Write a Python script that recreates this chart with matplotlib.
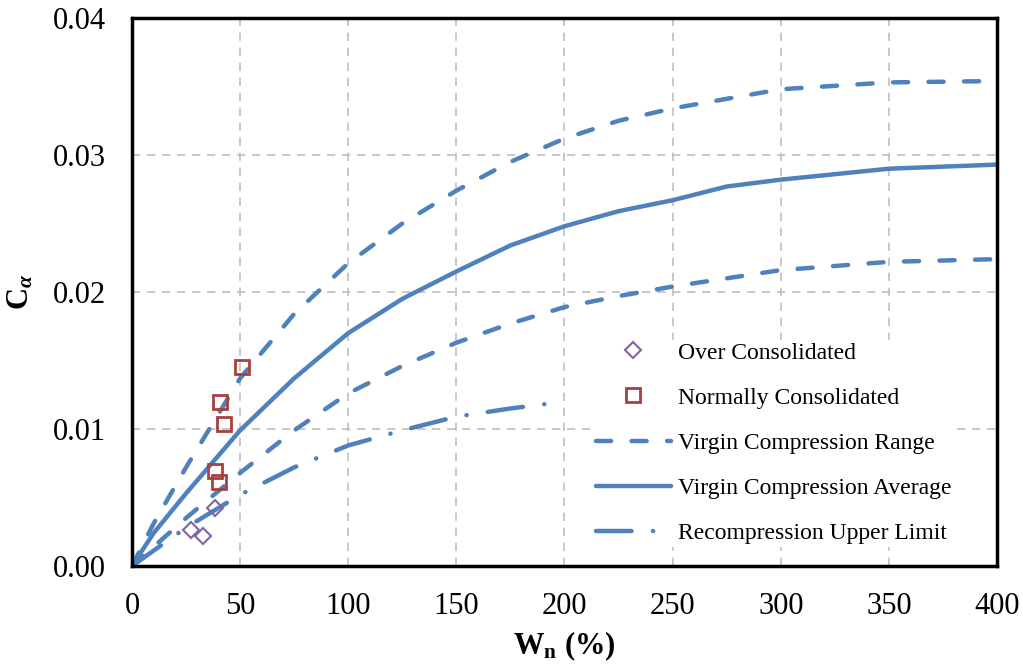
import numpy as np
import matplotlib.pyplot as plt

# ---- data ----
w_upper = [0, 10, 25, 50, 75, 100, 125, 150, 175, 200, 225, 250, 300, 350, 400]
ca_upper = [0, 0.0031, 0.0072, 0.0137, 0.0184, 0.0221, 0.0250, 0.0274, 0.0295, 0.0312, 0.0325,
            0.0334, 0.0348, 0.0353, 0.0354]

w_lower = [0, 10, 25, 50, 75, 100, 125, 150, 175, 200, 225, 250, 300, 350, 400]
ca_lower = [0, 0.0014, 0.0035, 0.0068, 0.0099, 0.0126, 0.0146, 0.0163, 0.0177, 0.0189, 0.0197,
            0.0204, 0.0216, 0.0222, 0.0224]

w_avg = [0, 10, 25, 50, 75, 100, 125, 150, 175, 200, 225, 250, 275, 300, 350, 400]
ca_avg = [0, 0.0024, 0.0053, 0.0099, 0.0137, 0.0170, 0.0195, 0.0215, 0.0234, 0.0248, 0.0259,
          0.0267, 0.0277, 0.0282, 0.0290, 0.0293]

w_rec = [0, 25, 50, 75, 100, 125, 150, 175, 200]
ca_rec = [0, 0.0028, 0.0052, 0.0072, 0.0088, 0.0099, 0.0109, 0.0115, 0.0120]

w_oc = [27.3, 33.0, 38.4]
ca_oc = [0.0026, 0.0022, 0.0042]

w_nc = [50.7, 40.8, 42.5, 38.5, 40.1]
ca_nc = [0.0145, 0.0120, 0.0104, 0.0069, 0.0061]

x_ticks = [0, 50, 100, 150, 200, 250, 300, 350, 400]
y_ticks = [0.00, 0.01, 0.02, 0.03, 0.04]

# ---- style ----
plt.rcParams['font.family'] = ['Liberation Serif', 'DejaVu Serif']
plt.rcParams['mathtext.fontset'] = 'custom'
plt.rcParams['mathtext.rm'] = 'Liberation Serif'
plt.rcParams['mathtext.it'] = 'Liberation Serif:italic'
plt.rcParams['mathtext.bf'] = 'Liberation Serif:bold'
plt.rcParams['mathtext.bfit'] = 'Liberation Serif:bold:italic'

blue = '#4F81BD'
lw = 3.2

fig = plt.figure(figsize=(10.23, 6.67), dpi=100)
ax = fig.add_axes([0.129, 0.1514, 0.8456, 0.8216])

ax.plot(w_oc, ca_oc, linestyle='none', marker='D', ms=8.5, mfc='none', mec='#8064A2', mew=1.5,
        label='Over Consolidated', zorder=4)
ax.plot(w_nc, ca_nc, linestyle='none', marker='s', ms=10, mfc='none', mec='#A8403D', mew=2,
        label='Normally Consolidated', zorder=4)

ax.plot(w_upper, ca_upper, color=blue, lw=lw, linestyle=(0, (3.4, 4.6)), dash_capstyle='round',
        label='Virgin Compression Range')
ax.plot(w_lower, ca_lower, color=blue, lw=lw, linestyle=(0, (3.4, 4.6)), dash_capstyle='round',
        label='_nolegend_')
ax.plot(w_avg, ca_avg, color=blue, lw=lw, solid_capstyle='round',
        label='Virgin Compression Average')
ax.plot(w_rec, ca_rec, color=blue, lw=lw, linestyle=(0, (8.0, 4.8, 0.05, 4.8)),
        dash_capstyle='round', label='Recompression Upper Limit')

ax.set_xlim(0, 400)
ax.set_ylim(0, 0.04)
ax.set_xticks(x_ticks)
ax.set_yticks(y_ticks)
ax.set_yticklabels(['%.2f' % v for v in y_ticks])
ax.tick_params(axis='both', length=0, labelsize=22)
ax.tick_params(axis='x', pad=19)
ax.tick_params(axis='y', pad=19)

ax.grid(True, color='#BFBFBF', linestyle=(0, (5, 4)), linewidth=1.2)
ax.set_axisbelow(True)

for s in ax.spines.values():
    s.set_linewidth(2.5)
    s.set_color('black')

ax.set_xlabel(r'$\mathbf{W}_{\mathbf{n}}$ (%)', fontsize=22, fontweight='bold', labelpad=6)
ax.set_ylabel(r'$\mathbf{C}_{\mathbfit{\alpha}}$', fontsize=22, fontweight='bold', labelpad=12)

leg = ax.legend(loc='lower right', bbox_to_anchor=(0.964, 0.014), fontsize=17, frameon=True,
                fancybox=False, framealpha=1, handlelength=3.2, handletextpad=0.3,
                labelspacing=1.0, borderpad=0.1, numpoints=1)
leg.get_frame().set_facecolor('white')
leg.get_frame().set_edgecolor('none')

fig.savefig('out.png', dpi=100)
